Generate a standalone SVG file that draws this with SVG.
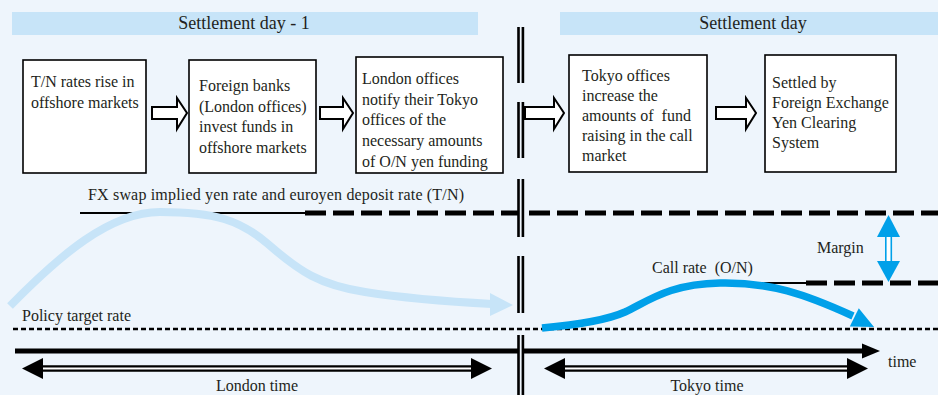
<svg xmlns="http://www.w3.org/2000/svg" width="938" height="395" viewBox="0 0 938 395" font-family="'Liberation Serif', 'DejaVu Serif', serif">
<style>
text{font-family:'Liberation Serif','DejaVu Serif',serif;fill:#231f20}
.hd{font-size:18px;text-anchor:middle}
.bt{font-size:16px}
.box{fill:#ffffff;stroke:#000;stroke-width:1.6}
.barrow{fill:#ffffff;stroke:#000;stroke-width:2;stroke-linejoin:miter}
.banner{fill:#c7e4f8}
.div{fill:#000}
.divgap{fill:#eef5fc}
</style>
<rect x="0" y="0" width="938" height="395" fill="#eef5fc"/>
<g id="banner-day-1">
<rect class="banner" x="12" y="12" width="466" height="23"/>
<text class="hd" x="244" y="29">Settlement day - 1</text>
</g>
<g id="banner-day">
<rect class="banner" x="560" y="12" width="378" height="23"/>
<text class="hd" x="753" y="29">Settlement day</text>
</g>
<g id="box1">
<rect class="box" x="23" y="60" width="123" height="113"/>
<text class="bt" x="31"><tspan x="31" y="87">T/N rates rise in</tspan><tspan x="31" y="108">offshore markets</tspan></text>
</g>
<g id="box2">
<rect class="box" x="189" y="60" width="127" height="113"/>
<text class="bt"><tspan x="199" y="91">Foreign banks</tspan><tspan x="199" y="112">(London offices)</tspan><tspan x="199" y="132">invest funds in</tspan><tspan x="199" y="153">offshore markets</tspan></text>
</g>
<g id="box3">
<rect class="box" x="356" y="57" width="147" height="116"/>
<text class="bt"><tspan x="362" y="84">London offices</tspan><tspan x="362" y="105">notify their Tokyo</tspan><tspan x="362" y="125">offices of the</tspan><tspan x="362" y="146">necessary amounts</tspan><tspan x="362" y="167">of O/N yen funding</tspan></text>
</g>
<g id="box4">
<rect class="box" x="569" y="55" width="138" height="117"/>
<text class="bt"><tspan x="582" y="81">Tokyo offices</tspan><tspan x="582" y="101">increase the</tspan><tspan x="582" y="121" xml:space="preserve">amounts of  fund</tspan><tspan x="582" y="141">raising in the call</tspan><tspan x="582" y="161">market</tspan></text>
</g>
<g id="box5">
<rect class="box" x="765" y="55" width="131" height="117"/>
<text class="bt"><tspan x="772" y="88">Settled by</tspan><tspan x="772" y="108">Foreign Exchange</tspan><tspan x="772" y="128">Yen Clearing</tspan><tspan x="772" y="148">System</tspan></text>
</g>
<g id="connectors">
<path class="barrow" d="M152,107 H177 V98 L187,113 L177,129 V119 H152 Z"/>
<path class="barrow" d="M320,107 H343 V98 L353,113 L343,129 V119 H320 Z"/>
<path class="barrow" d="M525,107 H554 V98 L564,113 L554,129 V119 H525 Z"/>
<path class="barrow" d="M716,107 H746 V98 L756,113 L746,129 V119 H716 Z"/>
</g>
<g id="rates">
<text class="bt" x="88" y="200" textLength="376" lengthAdjust="spacing">FX swap implied yen rate and euroyen deposit rate (T/N)</text>
<line x1="80" y1="213" x2="312" y2="213" stroke="#000" stroke-width="2"/>
<line x1="305" y1="213" x2="938" y2="213" stroke="#000" stroke-width="5" stroke-dasharray="21 7"/>
<line x1="695" y1="283" x2="812" y2="283" stroke="#000" stroke-width="2"/>
<line x1="806" y1="283" x2="938" y2="283" stroke="#000" stroke-width="5" stroke-dasharray="21 7"/>
<text class="bt" x="22" y="321">Policy target rate</text>
<line x1="13" y1="329" x2="938" y2="329" stroke="#000" stroke-width="2.5" stroke-dasharray="5 3"/>
<text class="bt" x="652" y="273" xml:space="preserve">Call rate  (O/N)</text>
<text class="bt" x="817" y="253">Margin</text>
<path d="M10,306 C60,255 110,212 160,212 C215,212 240,220 268,244 C300,272 320,285 365,292 C410,299 455,302 492,304" fill="none" stroke="#c7e4f8" stroke-width="8"/>
<polygon points="490,293 513,305 490,316" fill="#c7e4f8"/>
<path d="M542,328 C575,325 605,321 625,312 C650,300 670,284 720,283 C770,282 805,294 853,316" fill="none" stroke="#00a0e9" stroke-width="7.5"/>
<polygon points="858.8,308.3 874,327 849.8,326.6" fill="#00a0e9"/>
<rect x="885.8" y="236" width="5.5" height="26" fill="#ffffff" stroke="#00a0e9" stroke-width="1.6"/>
<polygon points="888.5,215 900,237 877,237" fill="#00a0e9"/>
<polygon points="888.5,282 900,261 877,261" fill="#00a0e9"/>
</g>
<g id="time-axis">
<line x1="15" y1="351" x2="866" y2="351" stroke="#000" stroke-width="5"/>
<polygon points="862,343.5 880,351 862,358.5" fill="#000"/>
<text class="bt" x="888" y="367">time</text>
<line x1="40" y1="368.5" x2="474" y2="368.5" stroke="#000" stroke-width="6.5"/>
<line x1="40" y1="368.5" x2="474" y2="368.5" stroke="#ffffff" stroke-width="2"/>
<polygon points="22,368.5 43,358 43,379" fill="#000"/>
<polygon points="492,368.5 471,358 471,379" fill="#000"/>
<text class="bt" x="257" y="391" text-anchor="middle">London time</text>
<line x1="562" y1="368.5" x2="850" y2="368.5" stroke="#000" stroke-width="6.5"/>
<line x1="562" y1="368.5" x2="850" y2="368.5" stroke="#ffffff" stroke-width="2"/>
<polygon points="544,368.5 565,358 565,379" fill="#000"/>
<polygon points="868,368.5 847,358 847,379" fill="#000"/>
<text class="bt" x="707" y="391" text-anchor="middle">Tokyo time</text>
</g>
<g id="divider">
<rect class="div" x="517.2" y="27" width="7" height="56"/>
<rect class="div" x="517.2" y="102" width="7" height="56"/>
<rect class="div" x="517.2" y="179" width="7" height="58"/>
<rect class="div" x="517.2" y="256" width="7" height="57"/>
<rect class="div" x="517.2" y="335" width="7" height="60"/>
<rect class="divgap" x="519.8" y="27" width="1.8" height="56"/>
<rect class="divgap" x="519.8" y="102" width="1.8" height="56"/>
<rect class="divgap" x="519.8" y="179" width="1.8" height="58"/>
<rect class="divgap" x="519.8" y="256" width="1.8" height="57"/>
<rect class="divgap" x="519.8" y="335" width="1.8" height="60"/>
</g>
</svg>
